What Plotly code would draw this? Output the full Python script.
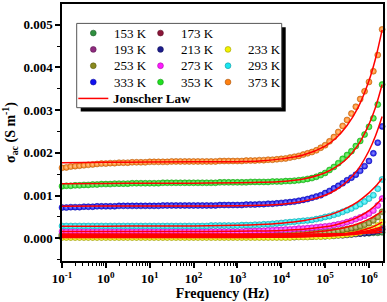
import plotly.graph_objects as go

# ---------------- data ----------------
temps_K = [153, 173, 193, 213, 233, 253, 273, 293, 333, 353, 373]
temp_labels = ["153 K", "173 K", "193 K", "213 K", "233 K", "253 K",
               "273 K", "293 K", "333 K", "353 K", "373 K"]

# measured frequencies (log10 Hz)
log_freq = [-1.0, -0.9, -0.8, -0.7, -0.6, -0.5, -0.4, -0.3, -0.2, -0.1,
            0.0, 0.1, 0.2, 0.3, 0.4, 0.5, 0.6, 0.7, 0.8, 0.9,
            1.0, 1.1, 1.2, 1.3, 1.4, 1.5, 1.6, 1.7, 1.8, 1.9,
            2.0, 2.1, 2.2, 2.3, 2.4, 2.5, 2.6, 2.7, 2.8, 2.9,
            3.0, 3.1, 3.2, 3.3, 3.4, 3.5, 3.6, 3.7, 3.8, 3.9,
            4.0, 4.1, 4.2, 4.3, 4.4, 4.5, 4.6, 4.7, 4.8, 4.9,
            5.0, 5.1, 5.2, 5.3, 5.4, 5.5, 5.6, 5.7, 5.8, 5.9,
            6.0, 6.1, 6.2, 6.3]

# sigma_ac in units of 1e-5 S/m
sig_153 = [10, 10, 10, 10, 10, 10, 10, 10, 10, 10,
           10, 10, 10, 10, 10, 10, 10, 10, 10, 10,
           10, 10, 10, 10, 10, 10, 10, 10, 10, 10,
           10, 10, 10, 10, 10, 10, 10, 10, 10, 10,
           10, 10, 10, 10, 10, 10, 10, 10, 10, 10,
           10, 10, 10, 10, 10, 10, 10, 10, 10, 10,
           10, 10, 10, 11, 11, 11, 11, 12, 12, 12,
           12, 13, 13, 14]
sig_173 = [7, 7, 7, 7, 7, 7, 7, 7, 7, 7,
           7, 7, 7, 7, 7, 7, 7, 7, 7, 7,
           7, 7, 7, 7, 7, 7, 7, 7, 7, 7,
           7, 7, 7, 7, 7, 7, 7, 7, 7, 7,
           7, 7, 7, 7, 7, 7, 7, 7, 7, 7,
           7, 7, 7, 7, 8, 8, 8, 8, 9, 9,
           9, 10, 10, 11, 11, 12, 13, 14, 15, 16,
           17, 18, 20, 22]
sig_193 = [5, 5, 5, 5, 5, 5, 5, 5, 5, 5,
           5, 5, 5, 5, 5, 5, 5, 5, 5, 5,
           5, 5, 5, 5, 5, 5, 5, 5, 5, 5,
           5, 5, 5, 5, 5, 5, 5, 5, 5, 5,
           5, 5, 5, 5, 5, 5, 5, 5, 5, 5,
           5, 5, 5, 5, 6, 6, 6, 6, 7, 7,
           8, 8, 9, 10, 11, 12, 13, 14, 15, 17,
           18, 20, 23, 27]
sig_213 = [3, 3, 3, 3, 3, 3, 3, 3, 3, 3,
           3, 3, 3, 3, 3, 3, 3, 3, 3, 3,
           3, 3, 3, 3, 3, 3, 3, 3, 3, 3,
           3, 3, 3, 3, 3, 3, 3, 3, 3, 3,
           3, 3, 3, 3, 3, 3, 3, 3, 3, 3,
           3, 3, 3, 3, 4, 4, 4, 4, 5, 5,
           5, 6, 6, 7, 7, 8, 9, 10, 11, 12,
           13, 15, 17, 20]
sig_233 = [2, 2, 2, 2, 2, 2, 2, 2, 2, 2,
           2, 2, 2, 2, 2, 2, 2, 2, 2, 2,
           2, 2, 2, 2, 2, 2, 2, 2, 2, 2,
           2, 2, 2, 2, 2, 2, 2, 2, 2, 2,
           2, 2, 2, 2, 2, 2, 2, 2, 2, 2,
           2, 2, 2, 3, 3, 3, 3, 4, 4, 4,
           5, 5, 6, 7, 8, 9, 10, 12, 14, 17,
           20, 24, 30, 38]
sig_253 = [8, 8, 8, 8, 8, 8, 8, 8, 8, 8,
           8, 8, 8, 8, 8, 8, 8, 8, 8, 8,
           8, 8, 8, 8, 8, 8, 8, 8, 8, 8,
           8, 8, 8, 8, 8, 8, 8, 8, 8, 8,
           8, 8, 8, 9, 9, 9, 9, 10, 10, 10,
           10, 11, 11, 11, 12, 12, 13, 13, 14, 14,
           15, 16, 17, 18, 20, 22, 24, 26, 29, 32,
           36, 42, 50, 62]
sig_273 = [16, 16, 16, 16, 16, 16, 16, 16, 16, 16,
           16, 16, 16, 16, 16, 16, 16, 16, 16, 16,
           16, 16, 16, 16, 16, 16, 16, 16, 16, 16,
           16, 16, 16, 16, 16, 16, 16, 16, 16, 16,
           16, 16, 17, 17, 17, 18, 18, 19, 19, 20,
           20, 21, 21, 22, 23, 23, 24, 25, 26, 27,
           28, 29, 31, 33, 35, 38, 41, 45, 49, 53,
           58, 65, 77, 93]
sig_293 = [29, 29, 29, 29, 29, 29, 29, 29, 29, 29,
           29, 29, 29, 29, 29, 29, 29, 29, 29, 29,
           29, 29, 29, 29, 29, 29, 29, 29, 29, 29,
           29, 29, 29, 29, 30, 30, 30, 30, 30, 30,
           30, 31, 31, 31, 32, 32, 33, 33, 34, 35,
           36, 37, 38, 39, 40, 41, 42, 43, 45, 47,
           50, 52, 55, 58, 62, 66, 70, 75, 80, 86,
           93, 101, 116, 138]
sig_333 = [72, 72, 73, 73, 73, 74, 74, 74, 75, 75,
           75, 75, 75, 76, 76, 76, 76, 76, 76, 76,
           76, 76, 76, 77, 77, 77, 77, 77, 77, 77,
           77, 77, 77, 77, 77, 77, 78, 78, 78, 78,
           78, 78, 79, 79, 79, 80, 80, 81, 81, 82,
           83, 84, 85, 86, 88, 90, 92, 95, 98, 101,
           106, 111, 117, 123, 129, 136, 142, 149, 158, 169,
           181, 199, 224, 262]
sig_353 = [122, 123, 123, 124, 124, 125, 125, 126, 126, 127,
           127, 127, 128, 128, 128, 128, 129, 129, 129, 129,
           129, 129, 129, 130, 130, 130, 130, 130, 130, 130,
           130, 130, 130, 130, 130, 130, 131, 131, 131, 131,
           131, 131, 131, 132, 132, 132, 132, 132, 133, 133,
           133, 134, 134, 135, 136, 137, 139, 141, 144, 148,
           153, 160, 167, 176, 186, 195, 204, 216, 228, 243,
           261, 281, 313, 360]
sig_373 = [165, 166, 168, 169, 170, 171, 172, 173, 174, 175,
           175, 176, 176, 177, 177, 177, 178, 178, 178, 178,
           179, 179, 179, 179, 179, 180, 180, 180, 180, 180,
           180, 180, 180, 180, 180, 180, 181, 181, 181, 181,
           181, 181, 182, 182, 182, 183, 183, 184, 184, 185,
           186, 187, 189, 191, 193, 196, 199, 202, 206, 212,
           218, 227, 237, 249, 263, 277, 292, 308, 326, 344,
           366, 391, 429, 489]

# Jonscher-law fitted curves, read at these log10 frequencies (1e-5 S/m)
fit_log_freq = [-1, 0, 1, 2, 3, 3.5, 4, 4.5, 5, 5.25, 5.5, 5.75, 6, 6.15, 6.3]
fit_153 = [10, 10, 10, 10, 10, 10, 10, 10.1, 10.3, 10.6, 11, 11.6, 12.4, 13.1, 14]
fit_173 = [7, 7, 7, 7, 7.1, 7.2, 7.4, 7.8, 8.8, 9.8, 11.1, 13.2, 16.3, 18.8, 22]
fit_193 = [5, 5, 5, 5, 5.1, 5.2, 5.5, 6.2, 7.7, 9, 11.1, 14.1, 18.6, 22.3, 27]
fit_213 = [3, 3, 3, 3, 3.1, 3.2, 3.4, 3.9, 5.1, 6.1, 7.7, 10, 13.5, 16.3, 20]
fit_233 = [2, 2, 2, 2, 2.1, 2.3, 2.7, 3.6, 5.8, 7.9, 11, 15.9, 23.5, 29.8, 38]
fit_253 = [8, 8, 8, 8.15, 8.6, 9.2, 10.3, 12.6, 17.3, 21.1, 26.5, 34.2, 45, 53.5, 64]
fit_273 = [16, 16, 16, 16.1, 16.6, 17.2, 18.5, 21.2, 27, 32, 39.3, 49.8, 65.1, 77.5, 93]
fit_293 = [28.5, 28.6, 28.7, 29, 30.6, 32.4, 35.6, 41.4, 52, 60.2, 71.3, 86.2, 106.4, 121.7, 140]
fit_333 = [75, 75.5, 75.5, 75.5, 76, 77.3, 80, 86.6, 101, 113.7, 133, 161.5, 205, 240, 285]
fit_353 = [128, 128.5, 129, 129, 130, 131, 133, 139, 153.5, 167, 187, 218, 267, 307, 360]
fit_373 = [177, 178, 178.5, 179, 179.5, 181, 186, 195, 216, 235, 264, 306, 369, 421, 488]

x_tick_vals = [1e-1, 1e0, 1e1, 1e2, 1e3, 1e4, 1e5, 1e6]
x_tick_text = ["10<sup>-1</sup>", "10<sup>0</sup>", "10<sup>1</sup>", "10<sup>2</sup>",
               "10<sup>3</sup>", "10<sup>4</sup>", "10<sup>5</sup>", "10<sup>6</sup>"]

series = [sig_153, sig_173, sig_193, sig_213, sig_233, sig_253,
          sig_273, sig_293, sig_333, sig_353, sig_373]
fits = [fit_153, fit_173, fit_193, fit_213, fit_233, fit_253,
        fit_273, fit_293, fit_333, fit_353, fit_373]

# ---------------- style ----------------
colors = ["#2f8f3f", "#8b1538", "#8e2a7e", "#1c1c8c", "#f2f200", "#8a8a1e",
          "#ff1aff", "#1ae6f0", "#1010f0", "#20e020", "#ff8010"]
FONT = "Liberation Serif, Times New Roman, serif"
UNIT = 1e-5


def mix(hexc, other, t):
    h = hexc.lstrip("#")
    r, g, b = int(h[0:2], 16), int(h[2:4], 16), int(h[4:6], 16)
    o = other.lstrip("#")
    r2, g2, b2 = int(o[0:2], 16), int(o[2:4], 16), int(o[4:6], 16)
    return "#%02x%02x%02x" % (round(r + (r2 - r) * t), round(g + (g2 - g) * t), round(b + (b2 - b) * t))


freq_hz = [10 ** v for v in log_freq]
fit_freq_hz = [10 ** v for v in fit_log_freq]

fig = go.Figure()
for name, vals, c in zip(temp_labels, series, colors):
    fig.add_trace(go.Scatter(
        x=freq_hz, y=[v * UNIT for v in vals], mode="markers", name=name,
        showlegend=False, cliponaxis=False,
        marker=dict(size=6, color=c, line=dict(color=mix(c, "#000000", 0.35), width=0.5),
                    gradient=dict(type="radial", color=mix(c, "#ffffff", 0.55)))))
for name, vals in zip(temp_labels, fits):
    fig.add_trace(go.Scatter(
        x=fit_freq_hz, y=[v * UNIT for v in vals], mode="lines", name="Jonscher Law " + name,
        showlegend=False, line=dict(color="#ff0000", width=1.5, shape="spline")))

# ---------------- layout geometry (pixels) ----------------
W, H = 387, 302
PL, PR, PT, PB = 62, 383, 2, 263


def px_x(x):
    return (x - PL) / (PR - PL)


def px_y(y):
    return (PB - y) / (PB - PT)


shapes = []
annotations = []
# legend shadow + box
bx0, bx1, by0, by1 = 76.7, 281.7, 21.7, 107.3
shapes.append(dict(type="rect", xref="paper", yref="paper", layer="above",
                   x0=px_x(bx0 + 4), x1=px_x(bx1 + 4), y0=px_y(by1 + 4), y1=px_y(by0 + 4),
                   fillcolor="black", line=dict(width=0)))
shapes.append(dict(type="rect", xref="paper", yref="paper", layer="above",
                   x0=px_x(bx0), x1=px_x(bx1), y0=px_y(by1), y1=px_y(by0),
                   fillcolor="white", line=dict(color="#555555", width=1)))
row_y = [31.5, 48.1, 64.7, 81.3, 97.9]
col_sym = [93.3, 160.5, 228.0]
col_txt = [111.5, 178.5, 245.5]
for i, (name, c) in enumerate(zip(temp_labels, colors)):
    j = i if i < 2 else i + 1
    r, k = j // 3, j % 3
    shapes.append(dict(type="circle", xref="paper", yref="paper", layer="above",
                       xsizemode="pixel", ysizemode="pixel",
                       xanchor=px_x(col_sym[k]), yanchor=px_y(row_y[r]),
                       x0=-2.9, x1=2.9, y0=-2.9, y1=2.9,
                       fillcolor=c, line=dict(color=mix(c, "#000000", 0.35), width=0.6)))
    annotations.append(dict(xref="paper", yref="paper", x=px_x(col_txt[k]), y=px_y(row_y[r]),
                            text=name, showarrow=False, xanchor="left", yanchor="middle",
                            font=dict(family=FONT, size=13, color="black")))
shapes.append(dict(type="line", xref="paper", yref="paper", layer="above",
                   x0=px_x(78.3), x1=px_x(108.3), y0=px_y(row_y[4]), y1=px_y(row_y[4]),
                   line=dict(color="#ff0000", width=1.5)))
annotations.append(dict(xref="paper", yref="paper", x=px_x(111.0), y=px_y(row_y[4]),
                        text="<b>Jonscher Law</b>", showarrow=False, xanchor="left", yanchor="middle",
                        font=dict(family=FONT, size=13, color="black")))

minor_x = [m * 10 ** e for e in range(-1, 7) for m in range(2, 10) if m * 10 ** e <= 2.05e6]

axis_common = dict(showline=True, linecolor="black", linewidth=1.5, mirror=True,
                   ticks="outside", tickcolor="black", tickwidth=1.5, ticklen=5,
                   showgrid=False, zeroline=False,
                   tickfont=dict(family=FONT, size=13, color="black", weight="bold"))

fig.update_layout(
    width=W, height=H,
    margin=dict(l=PL, r=W - PR, t=PT, b=H - PB),
    paper_bgcolor="white", plot_bgcolor="white",
    showlegend=False,
    font=dict(family=FONT, color="black"),
    xaxis=dict(type="log", range=[-1, 6.32], tickmode="array",
               tickvals=x_tick_vals, ticktext=x_tick_text,
               minor=dict(tickmode="array", tickvals=minor_x, ticks="outside",
                          ticklen=3, tickwidth=1, tickcolor="black"),
               title=dict(text="<b>Frequency (Hz)</b>", font=dict(family=FONT, size=14), standoff=4),
               **axis_common),
    yaxis=dict(range=[-0.00053, 0.005484], tick0=0, dtick=0.001, tickformat=".3f",
               minor=dict(dtick=0.0005, ticks="outside", ticklen=3, tickwidth=1, tickcolor="black"),
               title=dict(text="<b>σ<sub>ac</sub> (S m<sup>-1</sup>)</b>",
                          font=dict(family=FONT, size=14), standoff=6),
               **axis_common),
    shapes=shapes,
    annotations=annotations,
)

fig.write_html("out.html", config={"displayModeBar": False},
               post_script="document.body.style.margin='0';document.body.style.padding='0';")
